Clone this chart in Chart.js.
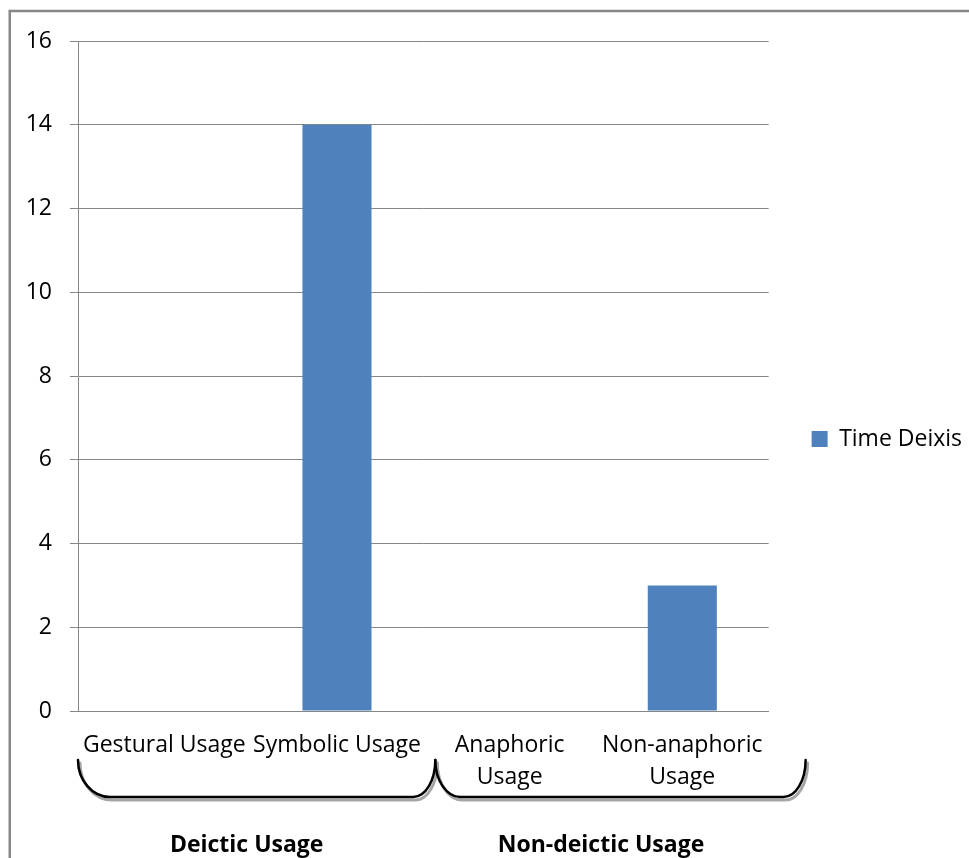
<!DOCTYPE html>
<html>
<head>
<meta charset="utf-8">
<script src="https://cdn.jsdelivr.net/npm/chart.js@4"></script>
<style>
  html, body { margin: 0; padding: 0; background: #fff; }
  #wrap { width: 969px; height: 858px; }
</style>
</head>
<body>
<div id="wrap"><canvas id="deixisChart" width="969" height="858"></canvas></div>
<script>
// chart data
var categories = [["Gestural Usage"], ["Symbolic Usage"], ["Anaphoric", "Usage"], ["Non-anaphoric", "Usage"]];
var timeDeixis = [0, 14, 0, 3];
var seriesName = "Time Deixis";
var groupNames = ["Deictic Usage", "Non-deictic Usage"];
var groupFirst = [0, 2];
var groupLast = [1, 3];
var yMin = 0, yMax = 16, yStep = 2;

var fontFamily = "'Open Sans', 'Noto Sans', sans-serif";
var gridGray = "#868686";
var barBlue = "#4F81BD";

// outer frame of the chart object
var framePlugin = {
    id: "frame",
    beforeDraw: function (chart) {
        var ctx = chart.ctx;
        ctx.save();
        ctx.fillStyle = "#fff";
        ctx.fillRect(0, 0, chart.width, chart.height);
        ctx.strokeStyle = "#878787";
        ctx.lineWidth = 2.5;
        ctx.strokeRect(9.75, 11, 1200, 1200);
        ctx.restore();
    }
}

// curly brackets under the categories + group names
var bracePlugin = {
    id: "braces",
    afterDraw: function (chart) {
        var ctx = chart.ctx;
        var xs = chart.scales.x;
        var half = xs.width / categories.length / 2;
        var yTop = 760, yBot = 797;
        var h = yBot - yTop, k = 0.552;
        var spans = groupFirst.map(function (a, i) {
            return [xs.getPixelForValue(a) - half, xs.getPixelForValue(groupLast[i]) + half];
        });
        // hand-placed like in the original document
        spans[0][1] += 12;
        spans[1][0] += 12;
        spans[1][1] += 37;
        function bracePath(L, R, rL, rR, dx, dy) {
            ctx.beginPath();
            ctx.moveTo(L + dx, yTop + dy);
            ctx.bezierCurveTo(L + dx, yTop + k * h + dy, L + rL - k * rL + dx, yBot + dy, L + rL + dx, yBot + dy);
            ctx.lineTo(R - rR + dx, yBot + dy);
            ctx.bezierCurveTo(R - rR + k * rR + dx, yBot + dy, R + dx, yTop + k * h + dy, R + dx, yTop + dy);
            ctx.stroke();
        }
        ctx.save();
        ctx.lineCap = "round";
        ctx.lineJoin = "round";
        spans.forEach(function (s, i) {
            var rL = i == 0 ? 32 : 25;
            ctx.strokeStyle = "#a6a6a6";
            ctx.lineWidth = 3;
            bracePath(s[0], s[1], rL, 22, 2, 3);
            ctx.strokeStyle = "#000";
            ctx.lineWidth = 2.5;
            bracePath(s[0], s[1], rL, 22, 0, 0);
        });
        ctx.fillStyle = "#000";
        ctx.font = "bold 23px " + fontFamily;
        ctx.textAlign = "center";
        ctx.textBaseline = "middle";
        var nudge = [-4, 5];
        groupNames.forEach(function (name, i) {
            var cx = (xs.getPixelForValue(groupFirst[i]) + xs.getPixelForValue(groupLast[i])) / 2;
            ctx.fillText(name, cx + nudge[i], 845);
        });
        ctx.restore();
    }
}

Chart.defaults.font.family = fontFamily;
Chart.defaults.color = "#000";

new Chart(document.getElementById("deixisChart").getContext("2d"), {
    type: "bar",
    data: {
        labels: categories,
        datasets: [
            {
                label: seriesName,
                data: timeDeixis,
                backgroundColor: barBlue,
                borderWidth: 0,
                barPercentage: 0.4,
                categoryPercentage: 1.0,
            },
        ],
    },
    options: {
        responsive: false,
        animation: false,
        devicePixelRatio: 1,
        layout: {
            padding: { top: 41, right: -3, bottom: 21, left: 10 }
        },
        plugins: {
            legend: {
                position: "right",
                align: "center",
                labels: {
                    boxWidth: 16,
                    boxHeight: 16,
                    padding: 43,
                    color: "#000",
                    font: { size: 23 },
                },
            },
            tooltip: { enabled: false },
        },
        scales: {
            x: {
                grid: { display: false, drawTicks: false },
                border: { display: true, color: gridGray, width: 1 },
                ticks: {
                    color: "#000",
                    font: { size: 23, lineHeight: 1.4 },
                    padding: 18,
                    maxRotation: 0,
                    autoSkip: false,
                },
                afterFit: function (scale) { scale.height = 126; },
            },
            y: {
                min: yMin,
                max: yMax,
                grid: { color: gridGray, lineWidth: 1, tickLength: 8, drawTicks: true },
                border: { display: true, color: gridGray, width: 1 },
                ticks: {
                    stepSize: yStep,
                    color: "#000",
                    font: { size: 23 },
                    padding: 18,
                },
                afterFit: function (scale) { scale.width = 68; },
            },
        },
    },
    plugins: [framePlugin, bracePlugin],
})
</script>
</body>
</html>
